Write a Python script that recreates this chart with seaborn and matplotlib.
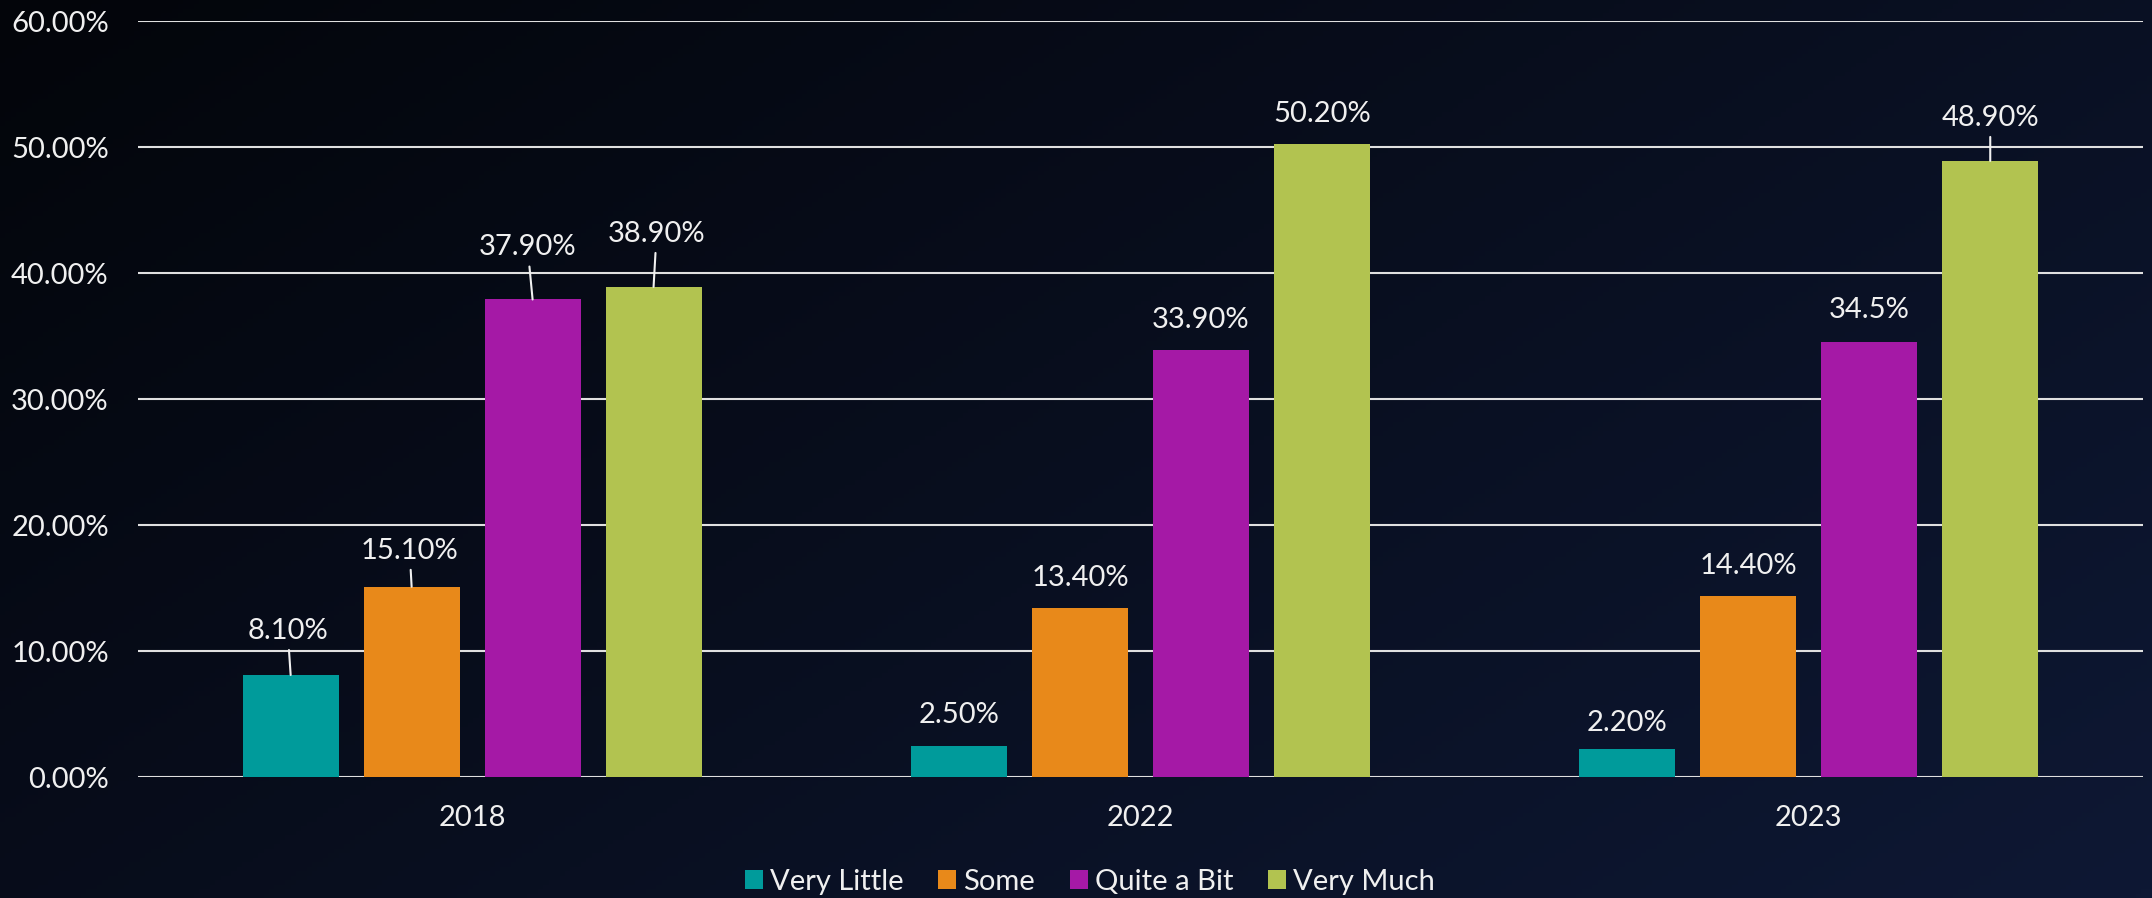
import numpy as np
import pandas as pd
import matplotlib
matplotlib.use("Agg")
import matplotlib.pyplot as plt
import seaborn as sns
from matplotlib.colors import LinearSegmentedColormap
from matplotlib.ticker import FuncFormatter

#%%
#  Data (percent of respondents)

years = ["2018", "2022", "2023"]
levels = ["Very Little", "Some", "Quite a Bit", "Very Much"]
very_little = [8.1, 2.5, 2.2]
some = [15.1, 13.4, 14.4]
quite_a_bit = [37.9, 33.9, 34.5]
very_much = [38.9, 50.2, 48.9]
bar_labels = {
    "Very Little": ["8.10%", "2.50%", "2.20%"],
    "Some": ["15.10%", "13.40%", "14.40%"],
    "Quite a Bit": ["37.90%", "33.90%", "34.5%"],
    "Very Much": ["38.90%", "50.20%", "48.90%"],
}

df = pd.DataFrame({
    "year": years * 4,
    "level": np.repeat(levels, 3),
    "value": very_little + some + quite_a_bit + very_much,
})

palette = ["#009B9B", "#E8891A", "#A519A6", "#B2C350"]
text_col = "#f0f0f0"

# label offset from bar top (pixels), and which labels were dragged with a leader line
lift = {"Very Little": [44, 31, 26], "Some": [36, 30, 30],
        "Quite a Bit": [52, 30, 32], "Very Much": [53, 30, 43]}
shift = {"Very Little": [-3, 0, 0], "Some": [-2, 0, 0],
         "Quite a Bit": [-5, 0, 0], "Very Much": [3, 0, 0]}
leaders = {("Very Little", 0), ("Some", 0), ("Quite a Bit", 0),
           ("Very Much", 0), ("Very Much", 2)}

#%%
#  Plot

sns.set_theme(style="dark")
plt.rcParams["font.family"] = ["Lato", "DejaVu Sans"]

fig = plt.figure(figsize=(21.52, 8.98), dpi=100)

# dark diagonal gradient background
bg = fig.add_axes([0, 0, 1, 1], zorder=-10)
gx, gy = np.meshgrid(np.linspace(0, 1, 400), np.linspace(0, 1, 200))
cmap = LinearSegmentedColormap.from_list("bg", ["#03050a", "#0e1834"])
bg.imshow(gx * 0.6 + gy * 0.4, cmap=cmap, aspect="auto", extent=[0, 1, 0, 1], origin="upper")
bg.axis("off")

ax = fig.add_axes([0.0641, 0.1347, 0.9317, 0.8419])
ax.patch.set_alpha(0)

sns.barplot(data=df, x="year", y="value", hue="level", hue_order=levels,
            palette=palette, saturation=1, width=0.724, gap=0.206,
            linewidth=0, ax=ax)

ax.set_xlim(-0.5, 2.5)
ax.set_ylim(0, 60)
ax.set_yticks(range(0, 61, 10))
ax.yaxis.set_major_formatter(FuncFormatter(lambda v, p: f"{v:.2f}%"))
ax.set_xlabel("")
ax.set_ylabel("")
ax.yaxis.grid(True, color="#e0e0e0", linewidth=1.5)
ax.xaxis.grid(False)
ax.set_axisbelow(True)
for s in ax.spines.values():
    s.set_visible(False)
ax.tick_params(axis="y", length=0, pad=21, labelsize=21, labelcolor=text_col)
ax.tick_params(axis="x", length=0, pad=20, labelsize=21, labelcolor=text_col)

for cont, lvl in zip(ax.containers, levels):
    for i, bar in enumerate(cont):
        x = bar.get_x() + bar.get_width() / 2
        h = bar.get_height()
        arrow = None
        if (lvl, i) in leaders:
            arrow = dict(arrowstyle="-", color=text_col, lw=1.5, shrinkA=2, shrinkB=0)
        ax.annotate(bar_labels[lvl][i], xy=(x, h), xytext=(shift[lvl][i], lift[lvl][i]),
                    textcoords="offset pixels", ha="center", va="center",
                    fontsize=21, color=text_col, arrowprops=arrow)

handles, labels = ax.get_legend_handles_labels()
ax.legend_.remove()
fig.legend(handles, labels, loc="center", bbox_to_anchor=(1090 / 2152, 1 - 882 / 898),
           ncol=4, frameon=False, fontsize=21, handlelength=0.6, handleheight=0.6,
           handletextpad=0.25, columnspacing=1.2, labelcolor=text_col)

fig.savefig("out.png", dpi=100)
